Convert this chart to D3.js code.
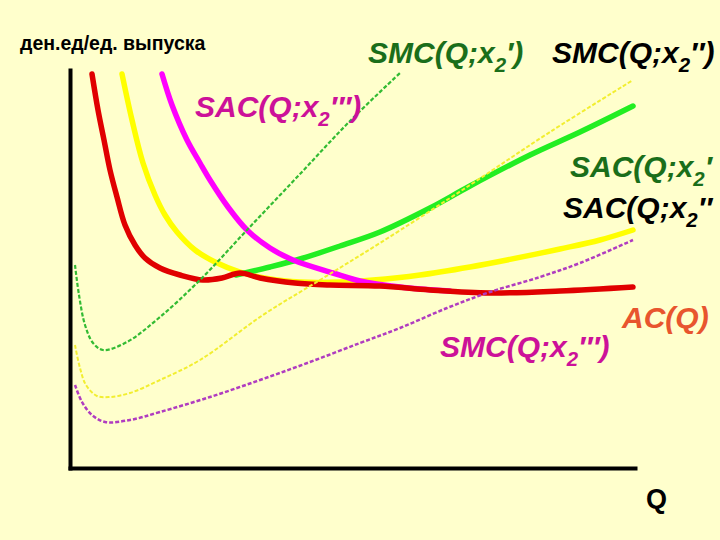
<!DOCTYPE html>
<html><head><meta charset="utf-8">
<script src="https://cdn.jsdelivr.net/npm/d3@7"></script>
<style>
html,body{margin:0;padding:0;background:#FFFFCC;}
svg{display:block;}
text{font-family:"Liberation Sans",Arial,sans-serif;}
</style></head>
<body>
<script>
// ---- data (Q, cost per unit) ----
const AC = [[4.4,98.5],[5.6,89.5],[6.8,82],[8,74.5],[9.4,67.75],[11,60.75],[13,55.75],[15,52.5],[18,50],[22,48.25],[26.6,47],[30.4,47.5],[34,48.75],[38,47.5],[45,46.25],[52,45.75],[62,45.5],[72,44.5],[84,43.75],[98,44.25],[112.6,45.25]];
const SAC2b = [[10.4,98.5],[12.4,87],[14.6,76.25],[17,68.25],[19,63.25],[21.4,59],[25,54.5],[29,51.5],[34,49],[40,47.25],[46,46.5],[54,46.5],[60.6,47],[70,48.25],[80,50.25],[87.4,52],[98,54.75],[106,57],[112.6,59.5]];
const SAC2a = [[33.2,48.25],[40,50.25],[46,52.25],[54,55.5],[62,59],[72,65],[80,70.5],[92,78.25],[102,84],[112.6,90.5]];
const SAC2c = [[18.4,98.5],[20.4,90.75],[23.4,82],[26,76.25],[28,72],[31.6,65.25],[35.4,59.5],[40,55],[44.6,52],[52.6,48.75],[58,46.75],[66,45.25],[76,44.25]];
const SMC2a = [[1,50.75],[1.8,43.25],[3,35.75],[4.6,31.25],[6.6,29.5],[11.4,31.5],[18,37.75],[26,47],[35.4,59.5],[46,73.5],[56,86.75],[66,98.75]];
const SMC2b = [[1,30.75],[2,25],[3.2,20.75],[5.4,18],[8,17.75],[12,18.75],[18,22],[26,27],[38.6,38.25],[50,47],[62,56.25],[80,70.75],[96,84],[112.6,97]];
const SMC2c = [[1,20.75],[2.4,16.5],[4.4,13.25],[7,11.5],[12,12],[18,14],[28,17.75],[38,22],[48,26.5],[58,31.25],[66,35],[75.4,40],[84,44],[94,47.75],[102,51.25],[112.6,57]];
const Q_MAX = 113, C_MAX = 99.5;

const W = 720, H = 540;
const svg = d3.select("body").append("svg").attr("width", W).attr("height", H);
svg.append("rect").attr("width", W).attr("height", H).attr("fill", "#FFFFCC");

const x = d3.scaleLinear().domain([0, Q_MAX]).range([70, 635]);
const y = d3.scaleLinear().domain([0, C_MAX]).range([468, 70]);

// axes
const gx = svg.append("g").attr("transform", `translate(0,${y(0)})`)
  .call(d3.axisBottom(x).tickValues([]).tickSizeOuter(0));
const gy = svg.append("g").attr("transform", `translate(${x(0)},0)`)
  .call(d3.axisLeft(y).tickValues([]).tickSizeOuter(0));
[gx, gy].forEach(g => g.select(".domain").attr("stroke", "#000").attr("stroke-width", 4).attr("stroke-linecap", "square"));

const line = d3.line().x(d => x(d[0])).y(d => y(d[1])).curve(d3.curveCatmullRom.alpha(0.5));

function draw(data, color, width, dash) {
  const p = svg.append("path").datum(data).attr("d", line)
    .attr("fill", "none").attr("stroke", color).attr("stroke-width", width)
    .attr("stroke-linecap", dash ? "butt" : "round").attr("stroke-linejoin", "round");
  if (dash) p.attr("stroke-dasharray", dash);
}

draw(SAC2b, "#FFFF00", 5.5);
draw(SAC2a, "#22EE22", 5.5);
draw(SAC2c, "#FF00FF", 5.5);
draw(AC, "#E00000", 5.5);
draw(SMC2a, "#33BB33", 2.2, "4,2");
draw(SMC2b, "#F2EE30", 2, "4,2");
draw(SMC2c, "#B03CC0", 2.5, "4,2");

// labels
function label(parts, px, py, color, size) {
  const t = svg.append("text").attr("x", px).attr("y", py).attr("fill", color)
    .attr("font-size", size).attr("font-weight", "bold").attr("font-style", "italic");
  t.append("tspan").text(parts[0]);
  t.append("tspan").attr("font-size", size * 0.68).attr("dy", 9).text("2");
  t.append("tspan").attr("dy", -9).text(parts[1]);
}
svg.append("text").attr("x", 20).attr("y", 50).attr("font-size", 19.5).attr("font-weight", "bold")
  .attr("fill", "#000").text("ден.ед/ед. выпуска");
label(["SMC(Q;x", "′)"], 368, 63, "#1A6E1A", 30);
label(["SMC(Q;x", "′′)"], 552, 63, "#000", 30);
label(["SAC(Q;x", "′′′)"], 195, 117, "#CC1199", 30);
label(["SAC(Q;x", "′"], 570, 177, "#1A6E1A", 30);
label(["SAC(Q;x", "′′"], 563, 218, "#000", 30);
label(["SMC(Q;x", "′′′)"], 440, 357, "#CC1199", 30);
svg.append("text").attr("x", 622).attr("y", 328).attr("font-size", 30).attr("font-weight", "bold")
  .attr("font-style", "italic").attr("fill", "#E8552E").text("AC(Q)");
svg.append("text").attr("x", 646).attr("y", 508).attr("font-size", 27).attr("font-weight", "bold")
  .attr("fill", "#000").text("Q");
</script>
</body></html>
